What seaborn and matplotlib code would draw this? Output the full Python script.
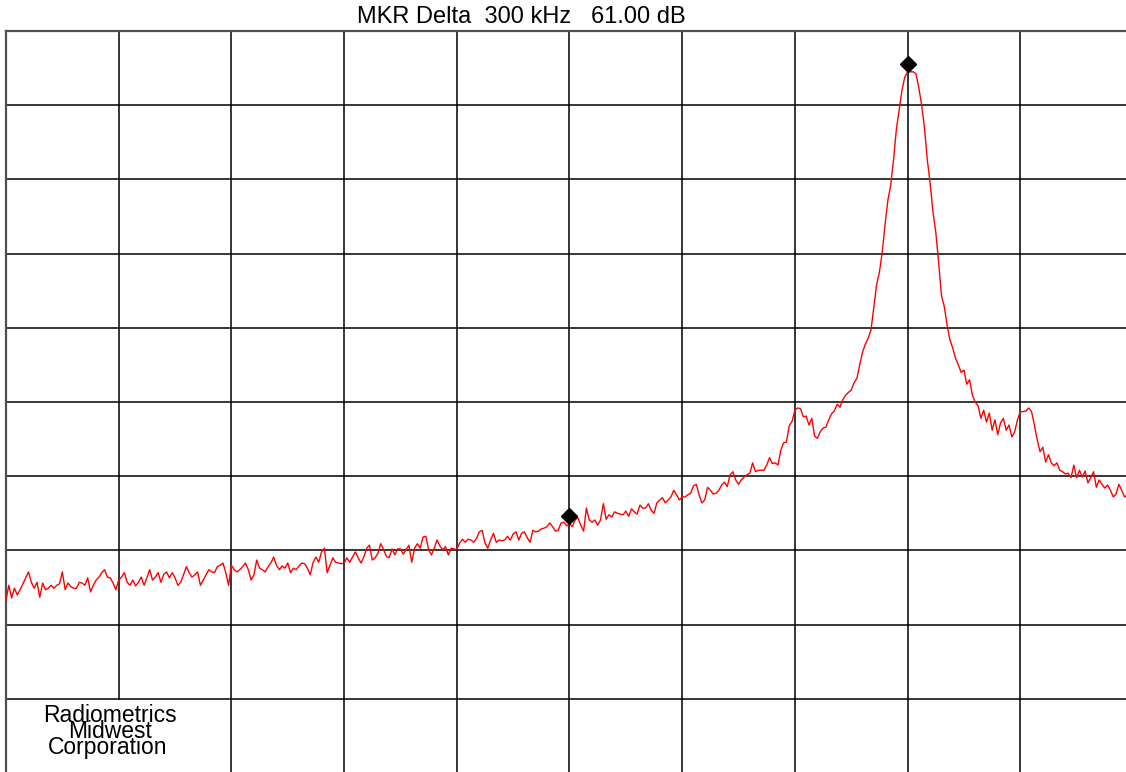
import numpy as np
import matplotlib
matplotlib.use("Agg")
import matplotlib.pyplot as plt
import matplotlib.transforms as mtransforms
from matplotlib.patches import Rectangle
import seaborn as sns

# ---------------- data ----------------
title_text = "MKR Delta  300 kHz   61.00 dB"
company_lines = ["Radiometrics", "Midwest", "Corporation"]

span_khz = 1000          # 100 kHz / div, 10 divisions
ref_level_db = 0         # top of screen
db_per_div = 10

# trace levels (dB), 401 sweep points across the span
level_db = [
    -76.7, -74.7, -76.4, -75.1, -76.0, -75.3, -74.5, -73.7, -72.9, -74.3, -75.1, -74.3, -76.3, -74.4, -75.3, -75.1, -74.7, -75.1, -74.7, -74.5,
    -72.9, -75.3, -74.4, -74.9, -75.1, -75.1, -74.3, -74.4, -74.7, -73.7, -75.6, -74.7, -74.0, -73.6, -73.0, -72.6, -73.6, -73.7, -74.4, -75.3,
    -74.0, -73.6, -73.0, -74.3, -74.7, -74.0, -74.8, -74.3, -73.6, -74.7, -73.7, -72.6, -74.0, -73.6, -73.0, -74.3, -73.2, -72.9, -73.7, -73.0,
    -73.7, -74.7, -74.3, -73.3, -72.2, -73.0, -73.6, -73.3, -72.9, -74.7, -74.0, -73.3, -72.6, -72.9, -73.0, -72.2, -72.0, -71.7, -73.0, -74.7,
    -72.0, -72.6, -72.9, -72.6, -72.2, -71.7, -72.6, -74.0, -73.3, -71.3, -72.4, -72.6, -72.9, -72.2, -71.7, -70.9, -72.0, -72.6, -72.1, -72.4,
    -71.7, -73.0, -72.4, -72.6, -72.1, -71.7, -71.8, -72.4, -73.3, -71.6, -70.9, -71.6, -70.2, -69.7, -73.0, -72.0, -71.0, -71.6, -71.7, -71.8,
    -71.7, -71.0, -71.6, -70.9, -70.2, -71.0, -71.7, -70.9, -69.7, -69.3, -71.3, -71.0, -70.4, -69.1, -69.9, -70.8, -71.0, -69.8, -70.6, -69.8,
    -69.8, -70.5, -69.9, -69.3, -71.6, -69.7, -69.1, -69.7, -68.2, -68.1, -69.9, -70.6, -69.7, -68.6, -69.4, -69.9, -69.5, -70.6, -69.7, -69.8,
    -69.9, -69.0, -68.5, -68.9, -68.5, -68.6, -68.9, -68.4, -67.5, -67.3, -69.0, -69.7, -68.6, -67.7, -68.9, -68.6, -68.7, -68.6, -68.1, -68.6,
    -67.8, -67.5, -68.6, -67.7, -67.5, -68.3, -68.9, -67.3, -67.5, -67.4, -67.1, -67.0, -66.8, -66.3, -66.8, -67.4, -67.3, -66.3, -66.2, -66.7,
    -66.4, -66.8, -65.9, -65.6, -66.6, -67.4, -64.3, -65.9, -66.2, -65.9, -66.6, -65.9, -63.7, -65.8, -65.2, -65.5, -64.8, -65.0, -65.1, -65.2,
    -64.7, -65.4, -64.4, -64.8, -65.1, -63.9, -64.3, -64.3, -63.7, -64.6, -65.0, -63.6, -63.2, -62.9, -63.6, -63.2, -62.8, -61.9, -62.5, -63.2,
    -62.8, -62.8, -62.5, -62.3, -61.3, -61.1, -62.5, -63.6, -63.2, -61.5, -61.9, -62.4, -62.3, -61.9, -61.2, -60.8, -61.4, -59.8, -59.4, -60.5,
    -61.1, -60.5, -60.1, -59.8, -59.6, -58.2, -59.4, -59.2, -59.2, -59.2, -58.5, -57.5, -58.3, -58.2, -58.5, -56.5, -55.5, -55.4, -53.2, -52.6,
    -51.1, -50.8, -50.9, -52.0, -51.9, -53.1, -52.2, -54.6, -54.9, -54.0, -53.5, -53.4, -52.4, -51.6, -51.2, -50.3, -50.7, -49.7, -49.1, -48.7,
    -48.4, -47.4, -46.8, -45.0, -43.3, -42.2, -41.4, -40.3, -37.3, -34.2, -32.5, -29.8, -26.1, -22.8, -20.8, -17.4, -13.3, -10.6, -8.0, -6.2,
    -5.5, -5.5, -5.5, -5.8, -7.7, -10.0, -13.1, -17.4, -20.5, -24.4, -27.1, -31.1, -35.6, -37.1, -39.6, -41.6, -42.7, -44.1, -45.0, -46.0,
    -45.7, -47.6, -47.0, -49.1, -50.0, -50.5, -52.2, -51.1, -52.7, -51.5, -53.8, -52.4, -54.4, -52.8, -52.2, -53.8, -53.1, -54.7, -54.0, -52.4,
    -51.3, -51.3, -51.2, -50.8, -51.3, -53.1, -55.1, -56.7, -56.1, -58.1, -57.1, -58.2, -58.6, -58.2, -59.2, -59.4, -59.7, -59.6, -60.2, -58.5,
    -60.2, -59.2, -60.1, -59.3, -60.9, -60.2, -59.4, -61.5, -60.5, -61.1, -61.6, -61.2, -61.9, -62.8, -62.4, -61.1, -61.9, -62.8, -62.5, -62.3, -62.7,
]
freq_khz = np.linspace(0, span_khz, len(level_db))

# markers: reference marker and delta marker (frequencies in kHz)
marker_freq_khz = [500, 800]

# ---------------- style ----------------
sns.set_style("white")
plt.rcParams["font.family"] = ["Liberation Sans", "DejaVu Sans"]
plt.rcParams["text.color"] = "black"

W, H = 1126, 772
fig = plt.figure(figsize=(W / 100, H / 100), dpi=100)
ax = fig.add_axes([6 / W, (H - 773) / H, 1127 / W, 742 / H])

ax.set_xlim(0, span_khz)
ax.set_ylim(ref_level_db - 10 * db_per_div, ref_level_db)
ax.set_xticks(np.arange(span_khz / 10, span_khz, span_khz / 10))
ax.set_yticks(np.arange(ref_level_db - 9 * db_per_div, ref_level_db, db_per_div))
ax.tick_params(length=0, labelbottom=False, labelleft=False)
ax.grid(True, color="#000000", linewidth=1.1, zorder=1)
ax.set_axisbelow(True)
for side, sp in ax.spines.items():
    sp.set_color("#505050")
    sp.set_linewidth(1.6)
ax.spines["bottom"].set_visible(False)
ax.spines["right"].set_visible(False)

# white label cell in lower-left (covers the grid line inside that cell)
ax.add_patch(Rectangle((0.002, -0.01), 0.196, 0.1085, transform=ax.transAxes,
                       facecolor="white", edgecolor="none", zorder=1.5))

sns.lineplot(x=freq_khz, y=level_db, ax=ax, color="#ff0000", linewidth=1.0,
             estimator=None, sort=False, zorder=3, legend=False)

# marker symbols sit just above the trace
mk_levels = [level_db[int(np.argmin(np.abs(freq_khz - f)))] for f in marker_freq_khz]
mk_trans = mtransforms.offset_copy(ax.transData, fig=fig, x=0, y=8, units="dots")
ax.plot(marker_freq_khz, mk_levels, linestyle="none", marker="D", color="black",
        markersize=8.3, transform=mk_trans, zorder=4, clip_on=False)

ax.set_xlabel("")
ax.set_ylabel("")

fig.text(521 / W, (H - 23) / H, title_text, ha="center", va="baseline",
         fontsize=17, color="black")

company_pos = [(110, 722), (110, 738), (108, 754)]
for line, (px, py) in zip(company_lines, company_pos):
    fig.text(px / W, (H - py) / H, line, ha="center", va="baseline",
             fontsize=16.5, color="black")

fig.savefig("out.png", dpi=100)
